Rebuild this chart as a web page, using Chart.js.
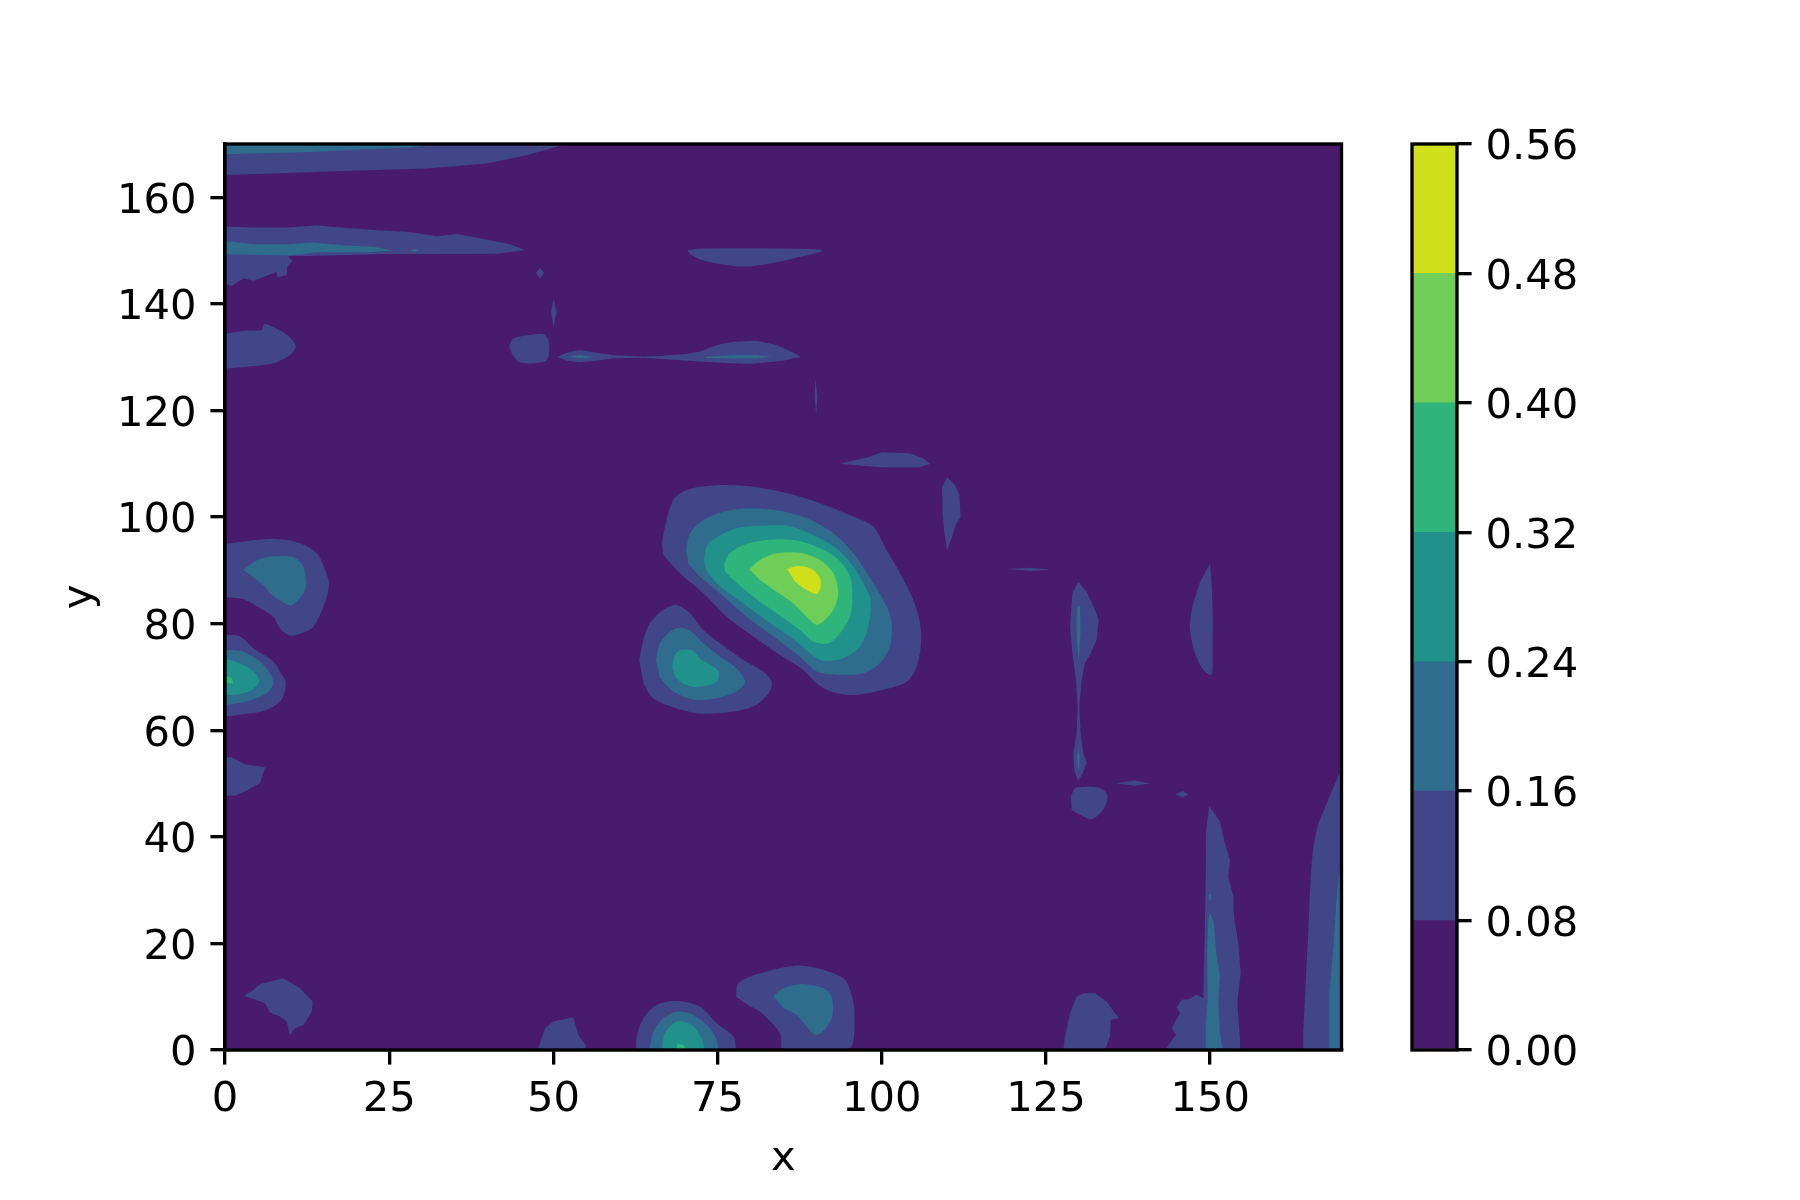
<!DOCTYPE html>
<html>
<head>
<meta charset="utf-8">
<title>contour</title>
<script src="https://cdn.jsdelivr.net/npm/chart.js@4"></script>
<style>
  body { margin: 0; background: #fff; }
  canvas { position: absolute; left: 0; top: 0; }
</style>
</head>
<body>
<canvas id="contour-chart" width="1800" height="1200"></canvas>
<canvas id="colorbar-chart" width="1800" height="1200"></canvas>
<script>
// Tick labels and contour levels
const xTicks = [0, 25, 50, 75, 100, 125, 150];
const yTicks = [0, 20, 40, 60, 80, 100, 120, 140, 160];
const levels = [0, 0.08, 0.16, 0.24, 0.32, 0.4, 0.48, 0.56];
const bandColors = ["#481b6d", "#404688", "#2f6c8e", "#21918c", "#2fb47c", "#6ece58", "#d0e11c"];

// Whole field, lowest band
const background = [[0, 0], [170, 0], [170, 170], [0, 170]];

// Central peak, outer to inner
const peakBand1 = [[66.49, 95.1], [66.99, 98.2], [68.26, 103.2], [70.29, 105.1], [75.37, 106], [80.44, 105.7], [85.52, 104.5], [90.6, 102.6], [95.67, 100.1], [98.72, 98.2], [100.75, 93.8], [102.78, 89.45], [104.81, 84.45], [105.83, 80.1], [105.98, 76.3], [105.32, 71.95], [103.8, 69.1], [100.24, 67.6], [95.67, 66.6], [92.12, 67.3], [90.09, 68.8], [88.06, 71.3], [84.5, 74.1], [80.44, 77.6], [76.38, 81.3], [72.83, 85.7], [69.28, 89.45], [66.74, 92.9]];
const peakBand2 = [[70.19, 93.8], [70.8, 96.95], [72.83, 99.45], [75.88, 101], [79.43, 101.6], [84, 101.3], [88.57, 99.8], [92.63, 96.95], [95.67, 93.2], [98.72, 87.6], [100.75, 83.2], [101.51, 80.1], [101.26, 75.7], [99.73, 72.6], [97.2, 70.7], [93.14, 70.4], [90.09, 71], [87.55, 73.8], [83.49, 77.6], [79.43, 81.3], [75.37, 85.7], [72.32, 88.8], [70.55, 91.3]];
const peakBand3 = [[72.93, 91.95], [73.44, 94.75], [75.37, 96.6], [77.91, 97.9], [81.97, 98.4], [85.52, 98.4], [89.58, 96.6], [93.14, 94.1], [95.67, 90.7], [97.45, 86.95], [98.31, 84.45], [97.96, 79.45], [96.69, 75.7], [94.15, 73.5], [91.61, 73], [90.09, 73.5], [87.04, 76.6], [82.98, 80.1], [78.92, 83.8], [74.86, 87.6], [73.24, 90.1]];
const peakBand4 = [[75.98, 91], [76.64, 92.9], [78.92, 94.75], [82.47, 95.7], [86.54, 95.7], [90.09, 94.45], [93.14, 92.3], [95.17, 88.8], [95.52, 84.45], [95.17, 81.3], [93.64, 78.2], [91.87, 76.3], [89.58, 76.6], [87.55, 78.8], [84, 81.95], [80.44, 85.1], [77.4, 88.2], [76.13, 89.8]];
const peakBand5 = [[79.84, 90.2], [81.46, 91.95], [84, 93.2], [87.55, 93.3], [90.6, 91.95], [92.63, 89.45], [93.39, 85.7], [92.63, 82.6], [91.1, 80.4], [90.09, 79.8], [89.07, 80.7], [86.54, 83.8], [84, 86], [81.46, 88.2]];
const peakBand6 = [[85.62, 90.2], [87.04, 90.8], [89.07, 90.4], [90.34, 89.1], [90.75, 87.6], [90.19, 85.6], [88.57, 86.3], [86.79, 87.9]];

// Smaller peak below it
const sidePeakBand1 = [[63.08, 73.2], [63.69, 76.95], [64.71, 80.1], [66.74, 82.6], [68.77, 83.5], [70.8, 81.95], [72.83, 78.8], [75.37, 76.3], [78.92, 73.2], [81.97, 71], [83.24, 69.1], [82.98, 67.3], [80.95, 64.8], [77.4, 63.5], [72.83, 63.1], [68.77, 64.1], [65.2, 66], [63.69, 68.8]];
const sidePeakBand2 = [[65.62, 73.2], [66.23, 76.3], [67.75, 78.5], [69.28, 79.3], [71.05, 78.5], [72.83, 76.3], [75.37, 73.8], [77.91, 71.6], [79.18, 69.1], [77.91, 67.3], [74.86, 66], [71.31, 65.7], [68.26, 67.3], [66.23, 69.8]];
const sidePeakBand3 = [[68.11, 71.95], [68.52, 74.15], [69.28, 75], [71.05, 75], [72.58, 73.2], [75.1, 71.2], [74.86, 69.1], [71.81, 68.1], [69.79, 68.7], [68.52, 70.1]];

// Top left strips
const topStripBand1 = [[0, 170], [52, 170], [45.94, 167.9], [39.85, 166.35], [30.71, 165.4], [19.04, 165], [10.41, 164.6], [0, 164.2]];
const topStripBand2 = [[0, 170], [33, 170], [28.2, 169.35], [21.6, 169], [12.95, 168.5], [0, 168.1]];
const upperStripBand1 = [[0, 154.5], [4.32, 154.35], [9.4, 154.35], [13.96, 154.7], [19.04, 154.2], [24.62, 153.7], [28.18, 153.5], [32.24, 152.7], [35.28, 153.1], [39.85, 152.1], [43.4, 151.2], [45.69, 150.1], [41.37, 149.4], [24.12, 149.35], [12.95, 149], [9.65, 149], [10.26, 148.1], [9.5, 147], [9.4, 145.4], [8.03, 145], [7.87, 146], [4.32, 144.35], [2.8, 144.8], [1.02, 143.35], [0, 143.85]];
const upperStripBand2 = [[0, 151.85], [4.32, 151.2], [9.4, 151.2], [13.46, 151.5], [18, 151], [22.6, 150.7], [25.64, 150], [21.58, 149.7], [13.96, 149.7], [9.9, 149.1], [0, 149.3]];
const upperStripSpot = [[28.18, 150], [28.9, 150.3], [29.45, 150], [28.9, 149.8]];
const leftBlob134 = [[0, 134.35], [3.3, 135], [5.59, 135.1], [5.94, 136.2], [7.87, 135.3], [9.65, 134], [10.77, 132], [9.9, 130.4], [7.36, 128.85], [3.3, 128.2], [0, 127.85]];

// Specks and the long thin streak near y = 130
const speck146 = [[47.36, 145.85], [47.97, 146.8], [48.58, 145.85], [47.97, 144.7]];
const speck138 = [[50, 140.85], [50.51, 138.5], [50, 135.7], [49.65, 138.5]];
const blob132 = [[43.3, 132], [43.91, 133.5], [46.45, 134.15], [48.48, 134.35], [49.24, 133.2], [49.34, 130.7], [48.74, 129.2], [44.93, 129], [43.66, 130.7]];
const streakBand1 = [[50.6, 130.1], [52.02, 130.85], [54.05, 131.35], [56.59, 130.85], [59.13, 130.35], [63.7, 130.15], [66.24, 130.2], [70.3, 130.6], [72.33, 131.05], [74.87, 132.3], [77.4, 132.9], [80.96, 133.1], [84, 132.3], [86.54, 130.85], [87.71, 130.1], [85, 129.35], [79.94, 128.7], [75.37, 128.95], [72.33, 129.2], [68.77, 129.45], [63.7, 129.9], [59.13, 129.8], [56.59, 129.35], [54.05, 129.05], [52.02, 129.35]];
const streakBand2a = [[52.27, 130.1], [54, 130.4], [56.34, 130], [54, 129.8]];
const streakBand2b = [[73.24, 130.1], [77.4, 130.35], [80.96, 130.35], [83.24, 130.1], [80.96, 129.75], [77.4, 129.75], [73.24, 129.85]];
const lens149 = [[70.4, 150.1], [72.33, 150.4], [85.27, 150.4], [91, 150], [86.54, 148.5], [82.48, 147.5], [78.93, 147], [75.37, 147.5], [72.33, 148.35], [70.8, 149.35]];
const sliver122 = [[89.89, 125.85], [90.2, 122.6], [90, 119.2], [89.8, 122.6]];
const lens110 = [[93.63, 110], [98.2, 111.3], [99.98, 112.14], [104.29, 111.95], [106.32, 111], [107.34, 109.95], [105.82, 109.33], [100.23, 109.33], [97.19, 109.58]];
const blob100 = [[109.98, 107.45], [111.15, 106], [111.81, 104.14], [111.91, 101.95], [112.01, 99.95], [111.15, 98.33], [110.89, 96.95], [109.98, 93.7], [109.52, 96.95], [109.27, 100.7], [109.17, 105.7]];
const sliver90 = [[119.2, 90.25], [122.5, 90.5], [125.7, 90.16], [122.5, 89.9]];

// Left edge blobs
const leftBlob90Band1 = [[0, 94.94], [3.81, 95.56], [7.87, 95.9], [11.43, 95.1], [13.96, 93.2], [15.23, 90.1], [15.84, 87.25], [14.98, 83.2], [13.46, 79.44], [11.43, 78.1], [9.9, 77.75], [8.38, 79.1], [7.36, 81.3], [5.33, 82.9], [2.8, 84.6], [0, 84.94]];
const leftBlob90Band2 = [[2.8, 90.1], [5.59, 92.25], [9.9, 92.6], [11.68, 91.3], [12.34, 88.5], [12.19, 86.3], [11.17, 84.44], [9.9, 83.4], [7.11, 85.4], [5.84, 87.25]];
const leftBlob70Band1 = [[0, 77.9], [2.29, 77.6], [4.32, 75.4], [7.36, 72.9], [8.63, 70.4], [9.24, 68.94], [8.63, 65.7], [6.35, 63.8], [2.8, 63], [0, 62.6]];
const leftBlob70Band2 = [[0, 75.05], [2.8, 74.75], [5.33, 72.9], [6.86, 70.7], [7.36, 68.8], [6.35, 66.94], [3.3, 65.4], [0, 64.75]];
const leftBlob70Band3 = [[0, 73.2], [0.77, 73.2], [2.29, 72.56], [4.07, 71.3], [5.23, 69.3], [4.07, 67.56], [2.29, 66.8], [0, 66.6]];
const leftBlob70Band4 = [[0, 70.4], [1.02, 69.75], [1.27, 68.8], [0, 68.8]];
const leftBlob50 = [[0, 54.94], [1.02, 54.94], [3.05, 53.6], [6.1, 53.06], [5.33, 50.06], [3.05, 48.5], [1.53, 47.75], [0, 47.7]];

// Bottom edge blobs
const bottomBlob10 = [[2.89, 10.14], [4.31, 11.26], [5.33, 12.39], [8.88, 13.45], [11.42, 11.58], [13.35, 9.08], [13.2, 7.2], [11.93, 4.7], [10.66, 4.08], [9.9, 2.83], [9.39, 5.33], [8.37, 6.27], [6.85, 7.02], [6.09, 8.77], [4.82, 9.39]];
const bottomBlob50 = [[47.61, 0], [48.73, 4.08], [50, 5.33], [53.04, 6.14], [53.8, 2.83], [54.92, 0.95], [54.92, 0]];
const bottomBlob70Band1 = [[62.59, 0], [62.69, 2.52], [63.7, 5.95], [65.73, 8.45], [68.78, 9.2], [72.33, 8.14], [74.87, 5], [77.41, 2.52], [77.81, 0]];
const bottomBlob70Band2 = [[64.62, 0], [65.22, 3.45], [66.75, 5.95], [68.78, 7.2], [71.32, 6.58], [73.85, 4.08], [74.87, 1.89], [75.12, 0]];
const bottomBlob70Band3 = [[66.49, 0], [67, 3.14], [68.78, 5.33], [71.06, 4.7], [72.58, 2.2], [73.09, 0]];
const bottomBlob70Band4 = [[68.78, 0], [68.88, 1.27], [69.79, 0.95], [70.3, 0]];
const bottomBlob90Band1 = [[77.81, 10], [78.17, 12.52], [81.47, 14.39], [86.8, 15.83], [90.6, 15.2], [94.16, 13.45], [95.17, 11.27], [95.83, 7.2], [94.92, 0], [85.02, 0], [84.51, 3.14], [81.47, 7.2], [79.95, 8.14]];
const bottomBlob90Band2 = [[83.5, 10.14], [85.02, 11.58], [88.07, 12.39], [91.62, 11.27], [92.48, 9.39], [92.28, 5.64], [90, 2.83], [87.05, 6.58], [85.02, 7.83]];
const bottomBlob130 = [[127.64, 0], [127.9, 2.54], [128.66, 6.91], [129.67, 10.03], [130.69, 10.66], [132.47, 10.66], [134.24, 9.1], [135.51, 6.91], [136.12, 5.97], [134.85, 5.66], [134.75, 2.54], [133.99, 0]];

// Right side columns
const column130Band1 = [[129.93, 87.87], [131.2, 86], [132.47, 82.55], [133.02, 80.8], [132.72, 76.93], [131.7, 74.12], [130.94, 72.68], [130.44, 69.43], [130.08, 64.43], [130.28, 59.43], [130.69, 55.68], [131.2, 53.93], [130.59, 51.93], [129.93, 50.55], [129.32, 52.24], [129.17, 55.68], [129.67, 59.43], [129.83, 64.43], [129.57, 69.43], [129.06, 74.12], [128.66, 79.43], [129.01, 85.68]];
const column130Band2a = [[129.78, 83.3], [130.18, 83.18], [130.28, 78.8], [130.08, 74.43], [129.93, 73.18], [129.78, 75.68], [129.67, 80.05]];
const column130Band2b = [[129.93, 56.43], [130.13, 55.05], [130.03, 52.24], [129.83, 53.18], [129.72, 55.05]];
const blob46 = [[128.81, 47.55], [129.42, 49.12], [130.69, 49.37], [132.97, 49.24], [134.24, 48.18], [134.24, 46.62], [133.73, 45.06], [131.96, 43.3], [130.18, 44.12], [128.91, 45.06]];
const speck50 = [[135.66, 50.05], [138.56, 50.55], [140.84, 50], [138.56, 49.6]];
const speck48 = [[144.65, 47.99], [145.82, 48.62], [146.68, 47.93], [145.82, 47.43]];
const lobe80 = [[149.98, 91.18], [150.23, 87.55], [150.38, 81.93], [150.38, 75.05], [150.33, 70.99], [149.98, 70.37], [148.96, 71.3], [147.69, 74.43], [146.93, 79.1], [147.19, 82.55], [148.46, 87.87]];
const column150Band1 = [[143.13, 0], [144.8, 2.85], [144.14, 4.1], [145.41, 6.91], [144.9, 8.03], [145.66, 9.41], [146.68, 9.54], [147.95, 10.35], [148.96, 9.72], [149.12, 18.78], [149.32, 31.91], [149.37, 41.28], [149.88, 45.78], [151.5, 42.85], [152.11, 39.41], [153.02, 35.66], [152.77, 32.53], [153.53, 28.78], [153.63, 25.03], [154.29, 20.03], [154.65, 14.41], [154.29, 10.66], [154.14, 8.78], [154.55, 1.91], [154.55, 0]];
const column150Band2a = [[149.22, 0], [149.32, 4.41], [149.62, 9.41], [149.52, 18.16], [149.72, 24.41], [149.98, 25.78], [150.59, 23.78], [150.89, 18.78], [151.5, 13.78], [151.25, 9.41], [151.5, 3.16], [151.91, 0]];
const column150Band2b = [[149.78, 29.1], [150.08, 29.3], [150.13, 28.16], [149.93, 28.16]];
const column168Band1 = [[164.19, 0], [164.19, 3.16], [164.45, 10.03], [164.95, 22.53], [165.46, 35.03], [166.22, 41.28], [167.75, 46.28], [169.27, 50.66], [170, 52.6], [170, 0]];
const column168Band2 = [[168.1, 0], [168.15, 10.66], [168.76, 19.41], [169.27, 28.78], [169.78, 34.41], [170, 35.5], [170, 0]];

// Which outlines belong to which band (index into bandColors)
const bandOutlines = [
  [background],
  [peakBand1, sidePeakBand1, topStripBand1, upperStripBand1, leftBlob134, speck146, speck138, blob132, streakBand1, lens149, sliver122, lens110, blob100, sliver90, leftBlob90Band1, leftBlob70Band1, leftBlob50, bottomBlob10, bottomBlob50, bottomBlob70Band1, bottomBlob90Band1, bottomBlob130, column130Band1, blob46, speck50, speck48, lobe80, column150Band1, column168Band1],
  [peakBand2, sidePeakBand2, topStripBand2, upperStripBand2, upperStripSpot, streakBand2a, streakBand2b, leftBlob90Band2, leftBlob70Band2, bottomBlob70Band2, bottomBlob90Band2, column130Band2a, column130Band2b, column150Band2a, column150Band2b, column168Band2],
  [peakBand3, sidePeakBand3, leftBlob70Band3, bottomBlob70Band3],
  [peakBand4, leftBlob70Band4, bottomBlob70Band4],
  [peakBand5],
  [peakBand6],
];

// Rounded outlines, the rest keep their sharp tips
const smoothOutlines = [peakBand1, peakBand2, peakBand3, peakBand4, peakBand5, peakBand6, sidePeakBand1, sidePeakBand2, sidePeakBand3, leftBlob134, blob132, leftBlob90Band1, leftBlob90Band2, leftBlob70Band1, leftBlob70Band2, leftBlob70Band3, bottomBlob70Band1, bottomBlob70Band2, bottomBlob70Band3, bottomBlob90Band1, bottomBlob90Band2, blob46, lobe80, lens149, column168Band1];

const tickFont = { family: "DejaVu Sans", size: 41.67 };
const lineWidth = 3.33;
const tickLength = 14.6;
const labelDrop = 4.5;

// Chart.js only draws the left and bottom axis lines, so stroke the whole box
const frame = {
  id: "frame",
  afterDraw(chart) {
    const { ctx, chartArea: a } = chart;
    ctx.save();
    ctx.strokeStyle = "#000";
    ctx.lineWidth = lineWidth;
    ctx.strokeRect(a.left, a.top, a.right - a.left, a.bottom - a.top);
    ctx.restore();
  },
};

// The y tick labels sit a little high with canvas middle baseline
const dropLabels = {
  id: "dropLabels",
  beforeDraw(chart) {
    chart.scales.y.getLabelItems().forEach((item) => {
      item.options.translation[1] += labelDrop;
    });
  },
};

function axisGrid() {
  return {
    drawOnChartArea: false,
    color: "#000",
    lineWidth: lineWidth,
    tickLength: tickLength,
  };
}

// Contour plot
const contourDatasets = [];
bandOutlines.forEach((outlines, band) => {
  outlines.forEach((outline) => {
    contourDatasets.push({
      data: outline,
      showLine: true,
      fill: "shape",
      backgroundColor: bandColors[band],
      borderWidth: 0,
      pointRadius: 0,
      tension: smoothOutlines.includes(outline) ? 0.3 : 0,
      order: -band,
    });
  });
});

new Chart(document.getElementById("contour-chart"), {
  type: "scatter",
  data: { datasets: contourDatasets },
  plugins: [frame, dropLabels],
  options: {
    responsive: false,
    animation: false,
    events: [],
    layout: { padding: { top: 144, right: 458.5, left: 0, bottom: 0 } },
    plugins: { legend: { display: false }, tooltip: { enabled: false } },
    scales: {
      x: {
        type: "linear",
        min: 0,
        max: 170,
        afterBuildTicks: (scale) => {
          scale.ticks = xTicks.map((v) => ({ value: v }));
        },
        afterFit: (scale) => {
          scale.height = 150;
        },
        grid: axisGrid(),
        border: { color: "#000", width: lineWidth },
        ticks: { font: tickFont, color: "#000", padding: 10.5, maxRotation: 0, autoSkip: false },
        title: { display: true, text: "x", font: tickFont, color: "#000", padding: { top: 0, bottom: 16 } },
      },
      y: {
        type: "linear",
        min: 0,
        max: 170,
        afterBuildTicks: (scale) => {
          scale.ticks = yTicks.map((v) => ({ value: v }));
        },
        afterFit: (scale) => {
          scale.width = 225;
        },
        grid: axisGrid(),
        border: { color: "#000", width: lineWidth },
        ticks: { font: tickFont, color: "#000", padding: 14, autoSkip: false },
        title: { display: true, text: "y", font: tickFont, color: "#000", padding: { top: 55.5, bottom: 0 } },
      },
    },
  },
});

// Colorbar
const colorbarDatasets = bandColors.map((color, i) => ({
  data: [[levels[i], levels[i + 1]]],
  backgroundColor: color,
  borderWidth: 0,
  barPercentage: 1,
  categoryPercentage: 1,
  grouped: false,
}));

new Chart(document.getElementById("colorbar-chart"), {
  type: "bar",
  data: { labels: [""], datasets: colorbarDatasets },
  plugins: [frame, dropLabels],
  options: {
    responsive: false,
    animation: false,
    events: [],
    layout: { padding: { top: 144, right: 223, left: 1412, bottom: 150 } },
    plugins: { legend: { display: false }, tooltip: { enabled: false } },
    scales: {
      x: { display: false },
      y: {
        position: "right",
        min: 0,
        max: 0.56,
        afterBuildTicks: (scale) => {
          scale.ticks = levels.map((v) => ({ value: v }));
        },
        afterFit: (scale) => {
          scale.width = 120;
        },
        grid: axisGrid(),
        border: { display: false },
        ticks: {
          font: tickFont,
          color: "#000",
          padding: 14,
          autoSkip: false,
          callback: (v) => v.toFixed(2),
        },
      },
    },
  },
});
</script>
</body>
</html>
